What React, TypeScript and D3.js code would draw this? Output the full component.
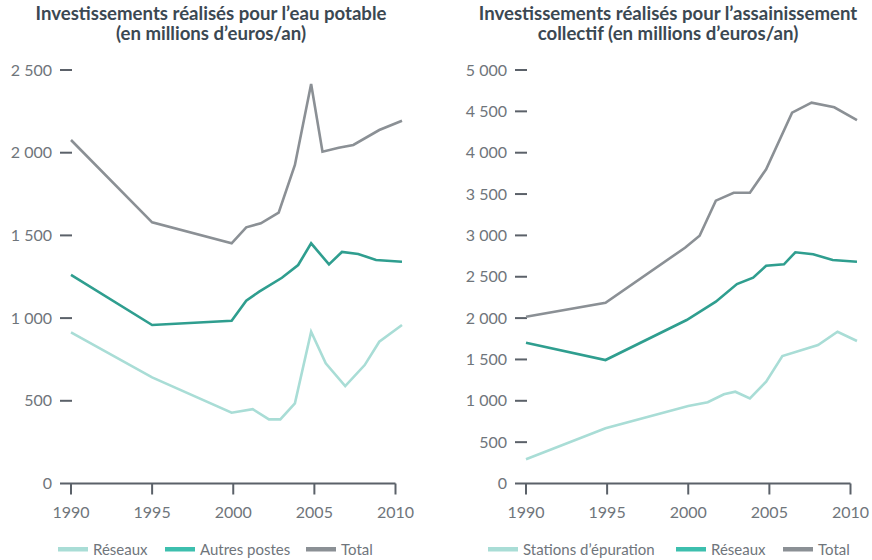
import React from 'react';
import * as d3 from 'd3';

// eau potable
const eauYearsTotal = [1990, 1995, 1999.9, 2000.8, 2001.7, 2002.8, 2003.8, 2004.8, 2005.5, 2006.5, 2007.4, 2009.0, 2010.4];
const eauTotal = [2077, 1579, 1452, 1549, 1573, 1637, 1926, 2415, 2006, 2030, 2047, 2137, 2193];
const eauYearsAutres = [1990, 1995, 1999.9, 2000.8, 2001.6, 2003.0, 2004.0, 2004.8, 2005.9, 2006.7, 2007.7, 2008.8, 2010.4];
const eauAutres = [1261, 958, 984, 1105, 1160, 1244, 1321, 1452, 1325, 1400, 1388, 1351, 1341];
const eauYearsReseaux = [1990, 1995, 1999.9, 2001.2, 2002.2, 2002.9, 2003.8, 2004.8, 2005.7, 2006.9, 2008.1, 2009.0, 2010.4];
const eauReseaux = [914, 642, 428, 449, 388, 388, 485, 918, 727, 589, 716, 857, 958];

// assainissement collectif
const assYearsTotal = [1990, 1994.9, 1999.8, 2000.7, 2001.7, 2002.8, 2003.8, 2004.8, 2006.4, 2007.6, 2009.0, 2010.4];
const assTotal = [2017, 2186, 2851, 2996, 3420, 3516, 3516, 3799, 4484, 4605, 4549, 4395];
const assYearsReseaux = [1990, 1994.9, 1999.9, 2001.7, 2003.0, 2004.0, 2004.8, 2005.9, 2006.6, 2007.7, 2008.9, 2010.4];
const assReseaux = [1703, 1493, 1977, 2198, 2412, 2488, 2633, 2650, 2796, 2772, 2702, 2682];
const assYearsStations = [1990, 1994.9, 2000.0, 2001.2, 2002.2, 2002.9, 2003.8, 2004.8, 2005.8, 2008.0, 2009.2, 2010.4];
const assStations = [293, 667, 937, 982, 1079, 1110, 1030, 1231, 1542, 1675, 1835, 1723];

const xTicks = [1990, 1995, 2000, 2005, 2010];

const LIGHT = '#a9ddd6';
const TEAL = '#2f9e8f';
const TEAL_LEG = '#3dbfae';
const GREY = '#8b9095';
const AXIS = '#5b6169';
const LABEL = '#6f757b';
const TITLE = '#3b4852';
const FONT = 'Lato, "Open Sans", sans-serif';

const fmt = (v: number) => d3.format(',')(v).replace(/,/g, ' ');

type Series = { name: string; years: number[]; values: number[]; color: string; legend: string };

const Panel = ({ left, yMax, yStep, title, titleX, series, legendX }: {
  left: number; yMax: number; yStep: number; title: string[]; titleX: number; series: Series[]; legendX: number[];
}) => {
  const x = d3.scaleLinear().domain([1990, 2010]).range([left, left + 324.5]);
  const y = d3.scaleLinear().domain([0, yMax]).range([483.5, 70]);
  const line = d3.line<[number, number]>().x(d => x(d[0])).y(d => y(d[1]));
  const yTicks = d3.range(0, yMax + 1, yStep);
  return (
    <g fontFamily={FONT}>
      {title.map((t, i) => (
        <text key={i} x={titleX} y={20 + i * 20} textAnchor="middle" fontSize={18.6} fontWeight="bold" fill={TITLE}>{t}</text>
      ))}
      {yTicks.map(v => (
        <g key={v}>
          {v > 0 && <line x1={left - 11} x2={left + 1} y1={y(v)} y2={y(v)} stroke={AXIS} strokeWidth={2} />}
          <text x={left - 19} y={y(v) + 5.5} textAnchor="end" fontSize={16} fill={LABEL}>{fmt(v)}</text>
        </g>
      ))}
      <line x1={left - 11} x2={x(2010)} y1={y(0)} y2={y(0)} stroke={AXIS} strokeWidth={2} />
      {xTicks.map(t => (
        <g key={t}>
          <line x1={x(t)} x2={x(t)} y1={y(0)} y2={y(0) + 11} stroke={AXIS} strokeWidth={2} />
          <text x={x(t)} y={518} textAnchor="middle" fontSize={16} fill={LABEL}>{t}</text>
        </g>
      ))}
      {series.map(s => (
        <path key={s.name} d={line(s.years.map((yr, i) => [yr, s.values[i]] as [number, number])) || ''}
          fill="none" stroke={s.color} strokeWidth={2.6} strokeLinejoin="miter" />
      ))}
      {series.map((s, i) => (
        <g key={'leg' + s.name}>
          <rect x={legendX[i]} y={547} width={30} height={4.5} fill={s.legend} />
          <text x={legendX[i] + 35} y={554.5} fontSize={15} fill={LABEL}>{s.name}</text>
        </g>
      ))}
    </g>
  );
};

const App = () => (
  <svg width={872} height={560} style={{ position: 'absolute', left: 0, top: 0, background: '#fff' }}>
    <Panel
      left={71}
      yMax={2500}
      yStep={500}
      titleX={211}
      title={['Investissements réalisés pour l\u2019eau potable', '(en millions d\u2019euros/an)']}
      legendX={[58, 165, 306]}
      series={[
        { name: 'Réseaux', years: eauYearsReseaux, values: eauReseaux, color: LIGHT, legend: LIGHT },
        { name: 'Autres postes', years: eauYearsAutres, values: eauAutres, color: TEAL, legend: TEAL_LEG },
        { name: 'Total', years: eauYearsTotal, values: eauTotal, color: GREY, legend: GREY },
      ]}
    />
    <Panel
      left={526}
      yMax={5000}
      yStep={500}
      titleX={668}
      title={['Investissements réalisés pour l\u2019assainissement', 'collectif (en millions d\u2019euros/an)']}
      legendX={[488, 676, 783]}
      series={[
        { name: 'Stations d\u2019épuration', years: assYearsStations, values: assStations, color: LIGHT, legend: LIGHT },
        { name: 'Réseaux', years: assYearsReseaux, values: assReseaux, color: TEAL, legend: TEAL_LEG },
        { name: 'Total', years: assYearsTotal, values: assTotal, color: GREY, legend: GREY },
      ]}
    />
  </svg>
);

export default App;
